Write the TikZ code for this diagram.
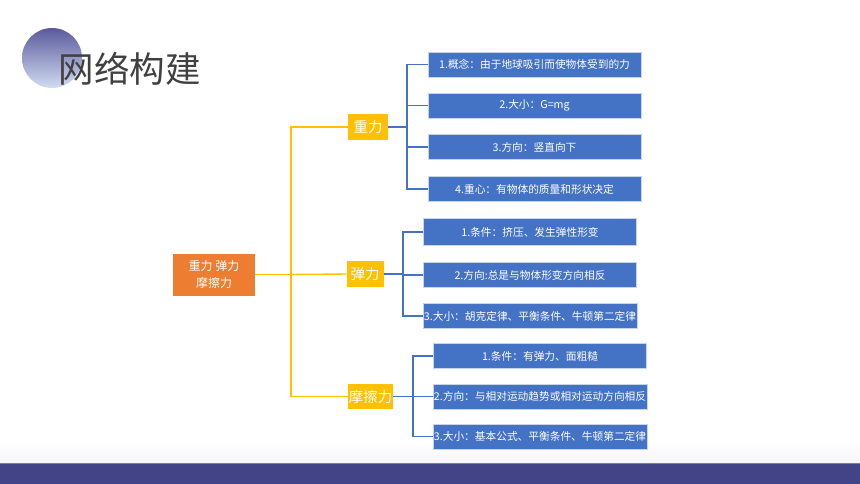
\documentclass[tikz,border=0pt]{standalone}
\usepackage{fontspec}
\setmainfont{Noto Sans CJK SC}
\usepackage{tikz}
\usetikzlibrary{positioning}
\definecolor{netblue}{RGB}{68,114,196}
\definecolor{netgold}{RGB}{255,192,0}
\definecolor{netorange}{RGB}{237,125,49}
\definecolor{netpurple}{RGB}{67,67,135}
\definecolor{netgray}{RGB}{64,64,64}
\definecolor{netedge}{RGB}{200,212,236}

\begin{document}
\begin{tikzpicture}[x=1pt, y=-1pt,
  leaf/.style={fill=netblue, draw=netedge, text=white, font=\fontsize{10.7}{12}\selectfont,
    minimum width=213pt, minimum height=25pt, inner sep=1pt},
  topic/.style={fill=netgold, text=white, font=\fontsize{14.5}{16}\selectfont,
    minimum height=26pt, inner sep=1pt},
  trunk/.style={netgold, line width=1.4pt},
  twig/.style={netblue, line width=1.3pt}]
  \useasboundingbox (0,0) rectangle (860,484);
  % title and bar
  \shade[top color=white, bottom color={rgb,255:red,246;green,246;blue,251}] %
    (0,440) rectangle (860,463);
  \fill[netpurple] (0,463) rectangle (860,484);
  \draw[netpurple!70!white] (0,463.5) -- (860,463.5);
  \shade[top color={rgb,255:red,90;green,90;blue,156}, %
    bottom color={rgb,255:red,210;green,220;blue,242}] (52,58) circle (30);
  \node[text=netgray, font=\fontsize{35.5}{38}\selectfont, anchor=west] (title) %
    at (55,69) {网络构建};
  % root and topics
  \node[fill=netorange, text=white, font=\fontsize{12}{17}\selectfont, align=center, %
    minimum width=82pt, minimum height=42pt, inner sep=1pt] (root) at (214,274.5) %
    {重力 弹力\\摩擦力};
  \node[topic, minimum width=40pt] (g) at (368,127) {重力};
  \node[topic, minimum width=37pt] (t) at (365,274) {弹力};
  \node[topic, minimum width=45pt, minimum height=25pt] (m) at (370.5,396.5) {摩擦力};
  \coordinate (trunk) at (291,274.5);
  \draw[trunk] (root.east) -- (trunk) |- (g.west);
  \draw[trunk] (trunk) -- (t.west);
  \draw[trunk] (trunk) |- (m.west);
  % gravity
  \node[leaf] (g1) at (534.5,64.5) {1.概念：由于地球吸引而使物体受到的力};
  \node[leaf] (g2) at (534.5,105.5) {2.大小：G=mg};
  \node[leaf] (g3) at (534.5,147) {3.方向：竖直向下};
  \node[leaf] (g4) at (534.5,189) {4.重心：有物体的质量和形状决定};
  \coordinate (gb) at (407,127);
  \foreach \i in {g1,g2,g3,g4}
    \draw[twig] (g.east) -- (gb) |- (\i.west);
  % elastic
  \node[leaf, minimum height=27pt] (t1) at (530,232) {1.条件：挤压、发生弹性形变};
  \node[leaf] (t2) at (530,275) {2.方向:总是与物体形变方向相反};
  \node[leaf] (t3) at (530,316) {3.大小：胡克定律、平衡条件、牛顿第二定律};
  \coordinate (tb) at (403,274);
  \foreach \i in {t1,t2,t3}
    \draw[twig] (t.east) -- (tb) |- (\i.west);
  % friction
  \node[leaf] (m1) at (540,356) {1.条件：有弹力、面粗糙};
  \node[leaf] (m2) at (540,396.5) {2.方向：与相对运动趋势或相对运动方向相反};
  \node[leaf] (m3) at (540,436.5) {3.大小：基本公式、平衡条件、牛顿第二定律};
  \coordinate (mb) at (413,396.5);
  \foreach \i in {m1,m2,m3}
    \draw[twig] (m.east) -- (mb) |- (\i.west);
\end{tikzpicture}
\end{document}
